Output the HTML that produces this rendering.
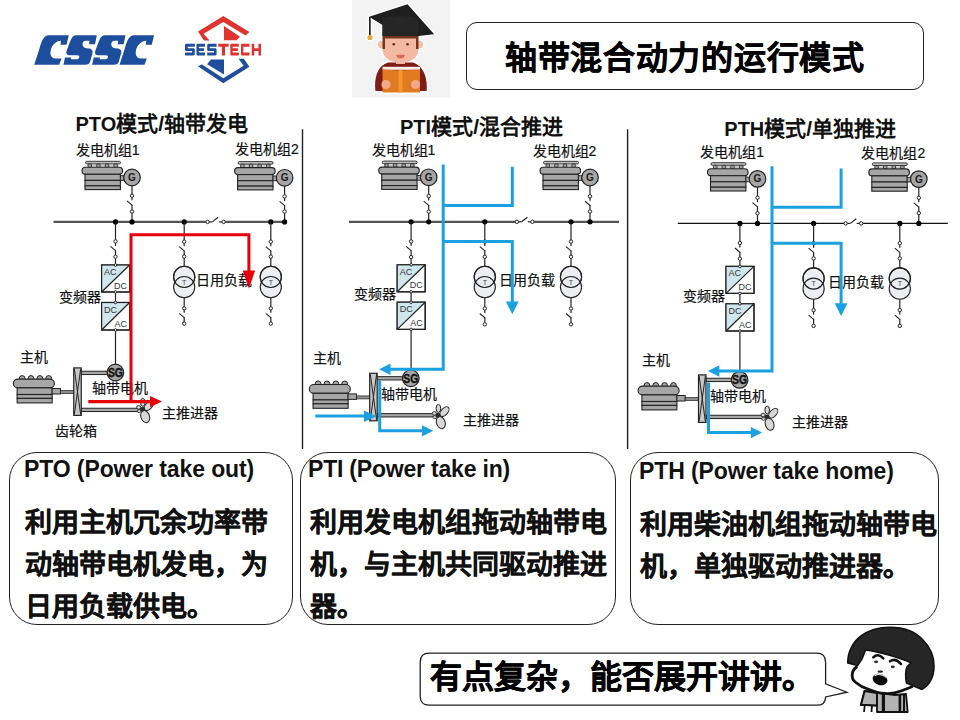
<!DOCTYPE html>
<html lang="zh-CN"><head><meta charset="utf-8"><title>轴带混合动力的运行模式</title>
<style>
html,body{margin:0;padding:0;background:#fff;}
body{width:960px;height:720px;position:relative;overflow:hidden;font-family:'Liberation Sans', sans-serif;}
svg text{font-family:'Liberation Sans', sans-serif;}
.box{position:absolute;border:1.3px solid #222;background:#fff;box-sizing:border-box;}
.hdr{position:absolute;font-weight:bold;font-size:23px;letter-spacing:-0.1px;color:#111;white-space:nowrap;}
.body{position:absolute;font-weight:bold;-webkit-text-stroke:0.3px #111;font-size:27px;line-height:42px;color:#111;white-space:nowrap;}
</style></head><body>
<svg width="960" height="720" viewBox="0 0 960 720" style="position:absolute;left:0;top:0">
<line x1="53.50" y1="221.90" x2="205.90" y2="221.90" stroke="#555" stroke-width="2.2" stroke-linecap="butt"/>
<line x1="225.30" y1="221.90" x2="285.00" y2="221.90" stroke="#555" stroke-width="2.2" stroke-linecap="butt"/>
<circle cx="207.60" cy="221.90" r="1.7" fill="#fff" stroke="#222" stroke-width="1"/>
<circle cx="223.60" cy="221.90" r="1.7" fill="#fff" stroke="#222" stroke-width="1"/>
<line x1="209.30" y1="221.90" x2="212.30" y2="221.90" stroke="#222" stroke-width="1.2" stroke-linecap="butt"/>
<line x1="212.30" y1="221.90" x2="218.10" y2="217.30" stroke="#222" stroke-width="1.2" stroke-linecap="butt"/>
<line x1="219.10" y1="221.90" x2="221.90" y2="221.90" stroke="#222" stroke-width="1.2" stroke-linecap="butt"/>
<rect x="85.50" y="161.30" width="35" height="2.6" rx="1.3" fill="#c4c4c4" stroke="#222" stroke-width="0.9"/>
<rect x="87.50" y="164.90" width="31" height="1.6" fill="#bdbdbd"/>
<rect x="88.10" y="163.90" width="3.4" height="3.6" rx="0.8" fill="#a0a0a0" stroke="#222" stroke-width="0.8"/>
<rect x="96.70" y="163.90" width="3.4" height="3.6" rx="0.8" fill="#a0a0a0" stroke="#222" stroke-width="0.8"/>
<rect x="105.30" y="163.90" width="3.4" height="3.6" rx="0.8" fill="#a0a0a0" stroke="#222" stroke-width="0.8"/>
<rect x="113.90" y="163.90" width="3.4" height="3.6" rx="0.8" fill="#a0a0a0" stroke="#222" stroke-width="0.8"/>
<rect x="82.00" y="167.30" width="40.6" height="7" rx="3.5" fill="#a6a6a6" stroke="#222" stroke-width="1.1"/>
<rect x="85.00" y="174.30" width="35.4" height="6.10" fill="#a6a6a6" stroke="#222" stroke-width="1.1"/>
<rect x="85.00" y="180.40" width="35.4" height="5.40" fill="#a6a6a6" stroke="#222" stroke-width="1.1"/>
<rect x="85.00" y="185.80" width="35.4" height="3.80" fill="#a6a6a6" stroke="#222" stroke-width="1.1"/>
<rect x="120.40" y="175.70" width="3.6" height="4.7" fill="#a6a6a6" stroke="#222" stroke-width="0.9"/>
<circle cx="132.00" cy="177.50" r="8.3" fill="#a6a6a6" stroke="#222" stroke-width="1.2"/>
<text x="132.00" y="180.90" font-size="10" font-weight="bold" fill="#1a1a1a" text-anchor="middle">G</text>
<line x1="132.00" y1="185.80" x2="132.00" y2="194.10" stroke="#222" stroke-width="1.2" stroke-linecap="butt"/>
<circle cx="132.00" cy="195.80" r="1.7" fill="#fff" stroke="#222" stroke-width="1"/>
<line x1="132.00" y1="197.50" x2="132.00" y2="200.30" stroke="#222" stroke-width="1.2" stroke-linecap="butt"/>
<line x1="127.00" y1="200.80" x2="132.30" y2="205.30" stroke="#222" stroke-width="1.1" stroke-linecap="butt"/>
<line x1="132.00" y1="204.80" x2="132.00" y2="209.80" stroke="#222" stroke-width="1.2" stroke-linecap="butt"/>
<circle cx="132.00" cy="211.50" r="1.7" fill="#fff" stroke="#222" stroke-width="1"/>
<line x1="132.00" y1="213.20" x2="132.00" y2="221.90" stroke="#222" stroke-width="1.2" stroke-linecap="butt"/>
<circle cx="132.00" cy="221.90" r="2.6" fill="#000"/>
<rect x="238.10" y="161.60" width="35" height="2.6" rx="1.3" fill="#c4c4c4" stroke="#222" stroke-width="0.9"/>
<rect x="240.10" y="165.20" width="31" height="1.6" fill="#bdbdbd"/>
<rect x="240.70" y="164.20" width="3.4" height="3.6" rx="0.8" fill="#a0a0a0" stroke="#222" stroke-width="0.8"/>
<rect x="249.30" y="164.20" width="3.4" height="3.6" rx="0.8" fill="#a0a0a0" stroke="#222" stroke-width="0.8"/>
<rect x="257.90" y="164.20" width="3.4" height="3.6" rx="0.8" fill="#a0a0a0" stroke="#222" stroke-width="0.8"/>
<rect x="266.50" y="164.20" width="3.4" height="3.6" rx="0.8" fill="#a0a0a0" stroke="#222" stroke-width="0.8"/>
<rect x="234.60" y="167.60" width="40.6" height="7" rx="3.5" fill="#a6a6a6" stroke="#222" stroke-width="1.1"/>
<rect x="237.60" y="174.60" width="35.4" height="6.10" fill="#a6a6a6" stroke="#222" stroke-width="1.1"/>
<rect x="237.60" y="180.70" width="35.4" height="5.40" fill="#a6a6a6" stroke="#222" stroke-width="1.1"/>
<rect x="237.60" y="186.10" width="35.4" height="3.80" fill="#a6a6a6" stroke="#222" stroke-width="1.1"/>
<rect x="273.00" y="176.00" width="3.6" height="4.7" fill="#a6a6a6" stroke="#222" stroke-width="0.9"/>
<circle cx="284.60" cy="177.80" r="8.3" fill="#a6a6a6" stroke="#222" stroke-width="1.2"/>
<text x="284.60" y="181.20" font-size="10" font-weight="bold" fill="#1a1a1a" text-anchor="middle">G</text>
<line x1="284.60" y1="186.10" x2="284.60" y2="194.70" stroke="#222" stroke-width="1.2" stroke-linecap="butt"/>
<circle cx="284.60" cy="196.40" r="1.7" fill="#fff" stroke="#222" stroke-width="1"/>
<line x1="284.60" y1="198.10" x2="284.60" y2="200.90" stroke="#222" stroke-width="1.2" stroke-linecap="butt"/>
<line x1="279.60" y1="201.40" x2="284.90" y2="205.90" stroke="#222" stroke-width="1.1" stroke-linecap="butt"/>
<line x1="284.60" y1="205.40" x2="284.60" y2="209.80" stroke="#222" stroke-width="1.2" stroke-linecap="butt"/>
<circle cx="284.60" cy="211.50" r="1.7" fill="#fff" stroke="#222" stroke-width="1"/>
<line x1="284.60" y1="213.20" x2="284.60" y2="221.90" stroke="#222" stroke-width="1.2" stroke-linecap="butt"/>
<circle cx="284.60" cy="221.90" r="2.6" fill="#000"/>
<circle cx="115.50" cy="221.90" r="2.6" fill="#000"/>
<line x1="115.50" y1="221.90" x2="115.50" y2="239.70" stroke="#222" stroke-width="1.2" stroke-linecap="butt"/>
<circle cx="115.50" cy="241.40" r="1.7" fill="#fff" stroke="#222" stroke-width="1"/>
<line x1="115.50" y1="243.10" x2="115.50" y2="245.90" stroke="#222" stroke-width="1.2" stroke-linecap="butt"/>
<line x1="110.50" y1="246.40" x2="115.80" y2="250.90" stroke="#222" stroke-width="1.1" stroke-linecap="butt"/>
<line x1="115.50" y1="250.40" x2="115.50" y2="255.00" stroke="#222" stroke-width="1.2" stroke-linecap="butt"/>
<circle cx="115.50" cy="256.70" r="1.7" fill="#fff" stroke="#222" stroke-width="1"/>
<line x1="115.50" y1="258.40" x2="115.50" y2="263.70" stroke="#222" stroke-width="1.2" stroke-linecap="butt"/>
<rect x="101.60" y="265.00" width="28" height="27.00" fill="#fff" stroke="#222" stroke-width="1.2"/>
<polygon points="101.60,265.00 129.60,265.00 101.60,292.00" fill="#cfe6ec"/>
<line x1="101.60" y1="292.00" x2="129.60" y2="265.00" stroke="#222" stroke-width="1.2" stroke-linecap="butt"/>
<rect x="101.60" y="265.00" width="28" height="27.00" fill="none" stroke="#222" stroke-width="1.2"/>
<text x="104.10" y="275.00" font-size="9" font-weight="normal" fill="#333" text-anchor="start" >AC</text>
<text x="127.10" y="288.50" font-size="9" font-weight="normal" fill="#333" text-anchor="end" >DC</text>
<circle cx="115.50" cy="265.00" r="1.3" fill="#fff" stroke="#222" stroke-width="1"/>
<circle cx="115.50" cy="292.00" r="1.3" fill="#fff" stroke="#222" stroke-width="1"/>
<rect x="101.60" y="302.50" width="28" height="27.50" fill="#fff" stroke="#222" stroke-width="1.2"/>
<polygon points="101.60,302.50 129.60,302.50 101.60,330.00" fill="#cfe6ec"/>
<line x1="101.60" y1="330.00" x2="129.60" y2="302.50" stroke="#222" stroke-width="1.2" stroke-linecap="butt"/>
<rect x="101.60" y="302.50" width="28" height="27.50" fill="none" stroke="#222" stroke-width="1.2"/>
<text x="104.10" y="312.50" font-size="9" font-weight="normal" fill="#333" text-anchor="start" >DC</text>
<text x="127.10" y="326.50" font-size="9" font-weight="normal" fill="#333" text-anchor="end" >AC</text>
<circle cx="115.50" cy="302.50" r="1.3" fill="#fff" stroke="#222" stroke-width="1"/>
<circle cx="115.50" cy="330.00" r="1.3" fill="#fff" stroke="#222" stroke-width="1"/>
<line x1="115.50" y1="293.30" x2="115.50" y2="301.20" stroke="#222" stroke-width="1.2" stroke-linecap="butt"/>
<line x1="115.50" y1="331.30" x2="115.50" y2="364.20" stroke="#222" stroke-width="1.2" stroke-linecap="butt"/>
<circle cx="184.20" cy="221.90" r="2.6" fill="#000"/>
<line x1="184.20" y1="221.90" x2="184.20" y2="240.00" stroke="#222" stroke-width="1.2" stroke-linecap="butt"/>
<circle cx="184.20" cy="241.70" r="1.7" fill="#fff" stroke="#222" stroke-width="1"/>
<line x1="184.20" y1="243.40" x2="184.20" y2="246.20" stroke="#222" stroke-width="1.2" stroke-linecap="butt"/>
<line x1="179.20" y1="246.70" x2="184.50" y2="251.20" stroke="#222" stroke-width="1.1" stroke-linecap="butt"/>
<line x1="184.20" y1="250.70" x2="184.20" y2="254.90" stroke="#222" stroke-width="1.2" stroke-linecap="butt"/>
<circle cx="184.20" cy="256.60" r="1.7" fill="#fff" stroke="#222" stroke-width="1"/>
<line x1="184.20" y1="258.30" x2="184.20" y2="266.30" stroke="#222" stroke-width="1.2" stroke-linecap="butt"/>
<circle cx="184.20" cy="276.90" r="10.6" fill="#e9ebf0" fill-opacity="0.85" stroke="#222" stroke-width="1.1"/>
<circle cx="184.20" cy="287.10" r="10.6" fill="#e9ebf0" fill-opacity="0.85" stroke="#222" stroke-width="1.1"/>
<circle cx="184.20" cy="276.90" r="10.6" fill="none" stroke="#222" stroke-width="1.1"/>
<text x="184.20" y="284.80" font-size="7" font-weight="normal" fill="#444" text-anchor="middle" >T</text>
<line x1="184.20" y1="297.70" x2="184.20" y2="306.60" stroke="#222" stroke-width="1.2" stroke-linecap="butt"/>
<circle cx="184.20" cy="308.30" r="1.7" fill="#fff" stroke="#222" stroke-width="1"/>
<line x1="184.20" y1="310.00" x2="184.20" y2="312.80" stroke="#222" stroke-width="1.2" stroke-linecap="butt"/>
<line x1="179.20" y1="313.30" x2="184.50" y2="317.80" stroke="#222" stroke-width="1.1" stroke-linecap="butt"/>
<line x1="184.20" y1="317.30" x2="184.20" y2="321.90" stroke="#222" stroke-width="1.2" stroke-linecap="butt"/>
<circle cx="184.20" cy="323.60" r="1.7" fill="#fff" stroke="#222" stroke-width="1"/>
<circle cx="270.80" cy="221.90" r="2.6" fill="#000"/>
<line x1="270.80" y1="221.90" x2="270.80" y2="240.00" stroke="#222" stroke-width="1.2" stroke-linecap="butt"/>
<circle cx="270.80" cy="241.70" r="1.7" fill="#fff" stroke="#222" stroke-width="1"/>
<line x1="270.80" y1="243.40" x2="270.80" y2="246.20" stroke="#222" stroke-width="1.2" stroke-linecap="butt"/>
<line x1="265.80" y1="246.70" x2="271.10" y2="251.20" stroke="#222" stroke-width="1.1" stroke-linecap="butt"/>
<line x1="270.80" y1="250.70" x2="270.80" y2="254.90" stroke="#222" stroke-width="1.2" stroke-linecap="butt"/>
<circle cx="270.80" cy="256.60" r="1.7" fill="#fff" stroke="#222" stroke-width="1"/>
<line x1="270.80" y1="258.30" x2="270.80" y2="266.30" stroke="#222" stroke-width="1.2" stroke-linecap="butt"/>
<circle cx="270.80" cy="276.90" r="10.6" fill="#e9ebf0" fill-opacity="0.85" stroke="#222" stroke-width="1.1"/>
<circle cx="270.80" cy="287.10" r="10.6" fill="#e9ebf0" fill-opacity="0.85" stroke="#222" stroke-width="1.1"/>
<circle cx="270.80" cy="276.90" r="10.6" fill="none" stroke="#222" stroke-width="1.1"/>
<text x="270.80" y="284.80" font-size="7" font-weight="normal" fill="#444" text-anchor="middle" >T</text>
<line x1="270.80" y1="297.70" x2="270.80" y2="306.60" stroke="#222" stroke-width="1.2" stroke-linecap="butt"/>
<circle cx="270.80" cy="308.30" r="1.7" fill="#fff" stroke="#222" stroke-width="1"/>
<line x1="270.80" y1="310.00" x2="270.80" y2="312.80" stroke="#222" stroke-width="1.2" stroke-linecap="butt"/>
<line x1="265.80" y1="313.30" x2="271.10" y2="317.80" stroke="#222" stroke-width="1.1" stroke-linecap="butt"/>
<line x1="270.80" y1="317.30" x2="270.80" y2="321.90" stroke="#222" stroke-width="1.2" stroke-linecap="butt"/>
<circle cx="270.80" cy="323.60" r="1.7" fill="#fff" stroke="#222" stroke-width="1"/>
<circle cx="22.15" cy="378.50" r="2.9" fill="#a6a6a6" stroke="#222" stroke-width="1"/>
<circle cx="31.00" cy="378.50" r="2.9" fill="#a6a6a6" stroke="#222" stroke-width="1"/>
<circle cx="39.85" cy="378.50" r="2.9" fill="#a6a6a6" stroke="#222" stroke-width="1"/>
<circle cx="48.70" cy="378.50" r="2.9" fill="#a6a6a6" stroke="#222" stroke-width="1"/>
<rect x="13.35" y="379.10" width="41" height="8.8" rx="4.4" fill="#a6a6a6" stroke="#222" stroke-width="1.1"/>
<rect x="17.15" y="387.90" width="35" height="6.60" fill="#a6a6a6" stroke="#222" stroke-width="1.1"/>
<rect x="17.15" y="394.50" width="35" height="3.90" fill="#a6a6a6" stroke="#222" stroke-width="1.1"/>
<rect x="17.15" y="398.40" width="35" height="4.50" fill="#a6a6a6" stroke="#222" stroke-width="1.1"/>
<rect x="52.15" y="388.50" width="8.3" height="5.5" fill="#a6a6a6" stroke="#222" stroke-width="1"/>
<rect x="60.45" y="390.50" width="13.3" height="3" fill="#8c8c8c" stroke="#222" stroke-width="0.7"/>
<rect x="81.25" y="371.25" width="26.15" height="3.3" fill="#a8a8a8" stroke="#222" stroke-width="1"/>
<rect x="81.25" y="408.25" width="59.65" height="3.3" fill="#a8a8a8" stroke="#222" stroke-width="1"/>
<rect x="73.75" y="367.90" width="7.5" height="47.5" fill="#c8c8c8" stroke="#222" stroke-width="1.2"/>
<path d="M74.35,368.90 Q77.50,391.65 80.65,414.40 M80.65,368.90 Q77.50,391.65 74.35,414.40" fill="none" stroke="#222" stroke-width="1"/>
<circle cx="115.40" cy="372.50" r="8.3" fill="#a6a6a6" stroke="#222" stroke-width="1.2"/>
<text x="115.40" y="376.80" font-size="12" font-weight="bold" fill="#111" stroke="#111" stroke-width="0.4" text-anchor="middle" textLength="15" lengthAdjust="spacingAndGlyphs">SG</text>
<ellipse cx="138.70" cy="407.40" rx="2.1" ry="1.8" fill="#d8d8d8" stroke="#222" stroke-width="0.9"/>
<ellipse cx="139.10" cy="411.20" rx="1.8" ry="1.5" fill="#d8d8d8" stroke="#222" stroke-width="0.8"/>
<ellipse cx="142.80" cy="402.40" rx="2.3" ry="4" fill="#d8d8d8" stroke="#222" stroke-width="1"/>
<ellipse cx="148.90" cy="405.60" rx="3.3" ry="5.7" transform="rotate(42 148.90 405.60)" fill="#d8d8d8" stroke="#222" stroke-width="1"/>
<ellipse cx="145.20" cy="416.60" rx="4.3" ry="6.2" transform="rotate(-18 145.20 416.60)" fill="#d8d8d8" stroke="#222" stroke-width="1"/>
<circle cx="142.70" cy="409.00" r="2.2" fill="#2a2a2a"/>
<line x1="349.00" y1="221.80" x2="515.20" y2="221.80" stroke="#555" stroke-width="2.2" stroke-linecap="butt"/>
<line x1="534.10" y1="221.80" x2="619.00" y2="221.80" stroke="#555" stroke-width="2.2" stroke-linecap="butt"/>
<circle cx="516.90" cy="221.80" r="1.7" fill="#fff" stroke="#222" stroke-width="1"/>
<circle cx="532.40" cy="221.80" r="1.7" fill="#fff" stroke="#222" stroke-width="1"/>
<line x1="518.60" y1="221.80" x2="521.60" y2="221.80" stroke="#222" stroke-width="1.2" stroke-linecap="butt"/>
<line x1="521.60" y1="221.80" x2="527.40" y2="217.20" stroke="#222" stroke-width="1.2" stroke-linecap="butt"/>
<line x1="527.90" y1="221.80" x2="530.70" y2="221.80" stroke="#222" stroke-width="1.2" stroke-linecap="butt"/>
<rect x="382.20" y="161.10" width="35" height="2.6" rx="1.3" fill="#c4c4c4" stroke="#222" stroke-width="0.9"/>
<rect x="384.20" y="164.70" width="31" height="1.6" fill="#bdbdbd"/>
<rect x="384.80" y="163.70" width="3.4" height="3.6" rx="0.8" fill="#a0a0a0" stroke="#222" stroke-width="0.8"/>
<rect x="393.40" y="163.70" width="3.4" height="3.6" rx="0.8" fill="#a0a0a0" stroke="#222" stroke-width="0.8"/>
<rect x="402.00" y="163.70" width="3.4" height="3.6" rx="0.8" fill="#a0a0a0" stroke="#222" stroke-width="0.8"/>
<rect x="410.60" y="163.70" width="3.4" height="3.6" rx="0.8" fill="#a0a0a0" stroke="#222" stroke-width="0.8"/>
<rect x="378.70" y="167.10" width="40.6" height="7" rx="3.5" fill="#a6a6a6" stroke="#222" stroke-width="1.1"/>
<rect x="381.70" y="174.10" width="35.4" height="6.10" fill="#a6a6a6" stroke="#222" stroke-width="1.1"/>
<rect x="381.70" y="180.20" width="35.4" height="5.40" fill="#a6a6a6" stroke="#222" stroke-width="1.1"/>
<rect x="381.70" y="185.60" width="35.4" height="3.80" fill="#a6a6a6" stroke="#222" stroke-width="1.1"/>
<rect x="417.10" y="175.50" width="3.6" height="4.7" fill="#a6a6a6" stroke="#222" stroke-width="0.9"/>
<circle cx="428.70" cy="177.30" r="8.3" fill="#a6a6a6" stroke="#222" stroke-width="1.2"/>
<text x="428.70" y="180.70" font-size="10" font-weight="bold" fill="#1a1a1a" text-anchor="middle">G</text>
<line x1="428.70" y1="185.60" x2="428.70" y2="194.40" stroke="#222" stroke-width="1.2" stroke-linecap="butt"/>
<circle cx="428.70" cy="196.10" r="1.7" fill="#fff" stroke="#222" stroke-width="1"/>
<line x1="428.70" y1="197.80" x2="428.70" y2="200.60" stroke="#222" stroke-width="1.2" stroke-linecap="butt"/>
<line x1="423.70" y1="201.10" x2="429.00" y2="205.60" stroke="#222" stroke-width="1.1" stroke-linecap="butt"/>
<line x1="428.70" y1="205.10" x2="428.70" y2="209.90" stroke="#222" stroke-width="1.2" stroke-linecap="butt"/>
<circle cx="428.70" cy="211.60" r="1.7" fill="#fff" stroke="#222" stroke-width="1"/>
<line x1="428.70" y1="213.30" x2="428.70" y2="221.80" stroke="#222" stroke-width="1.2" stroke-linecap="butt"/>
<circle cx="428.70" cy="221.80" r="2.6" fill="#000"/>
<rect x="543.50" y="161.30" width="35" height="2.6" rx="1.3" fill="#c4c4c4" stroke="#222" stroke-width="0.9"/>
<rect x="545.50" y="164.90" width="31" height="1.6" fill="#bdbdbd"/>
<rect x="546.10" y="163.90" width="3.4" height="3.6" rx="0.8" fill="#a0a0a0" stroke="#222" stroke-width="0.8"/>
<rect x="554.70" y="163.90" width="3.4" height="3.6" rx="0.8" fill="#a0a0a0" stroke="#222" stroke-width="0.8"/>
<rect x="563.30" y="163.90" width="3.4" height="3.6" rx="0.8" fill="#a0a0a0" stroke="#222" stroke-width="0.8"/>
<rect x="571.90" y="163.90" width="3.4" height="3.6" rx="0.8" fill="#a0a0a0" stroke="#222" stroke-width="0.8"/>
<rect x="540.00" y="167.30" width="40.6" height="7" rx="3.5" fill="#a6a6a6" stroke="#222" stroke-width="1.1"/>
<rect x="543.00" y="174.30" width="35.4" height="6.10" fill="#a6a6a6" stroke="#222" stroke-width="1.1"/>
<rect x="543.00" y="180.40" width="35.4" height="5.40" fill="#a6a6a6" stroke="#222" stroke-width="1.1"/>
<rect x="543.00" y="185.80" width="35.4" height="3.80" fill="#a6a6a6" stroke="#222" stroke-width="1.1"/>
<rect x="578.40" y="175.70" width="3.6" height="4.7" fill="#a6a6a6" stroke="#222" stroke-width="0.9"/>
<circle cx="590.00" cy="177.50" r="8.3" fill="#a6a6a6" stroke="#222" stroke-width="1.2"/>
<text x="590.00" y="180.90" font-size="10" font-weight="bold" fill="#1a1a1a" text-anchor="middle">G</text>
<line x1="590.00" y1="185.80" x2="590.00" y2="194.55" stroke="#222" stroke-width="1.2" stroke-linecap="butt"/>
<circle cx="590.00" cy="196.25" r="1.7" fill="#fff" stroke="#222" stroke-width="1"/>
<line x1="590.00" y1="197.95" x2="590.00" y2="200.75" stroke="#222" stroke-width="1.2" stroke-linecap="butt"/>
<line x1="585.00" y1="201.25" x2="590.30" y2="205.75" stroke="#222" stroke-width="1.1" stroke-linecap="butt"/>
<line x1="590.00" y1="205.25" x2="590.00" y2="209.80" stroke="#222" stroke-width="1.2" stroke-linecap="butt"/>
<circle cx="590.00" cy="211.50" r="1.7" fill="#fff" stroke="#222" stroke-width="1"/>
<line x1="590.00" y1="213.20" x2="590.00" y2="221.80" stroke="#222" stroke-width="1.2" stroke-linecap="butt"/>
<circle cx="590.00" cy="221.80" r="2.6" fill="#000"/>
<circle cx="411.10" cy="221.80" r="2.6" fill="#000"/>
<line x1="411.10" y1="221.80" x2="411.10" y2="239.70" stroke="#222" stroke-width="1.2" stroke-linecap="butt"/>
<circle cx="411.10" cy="241.40" r="1.7" fill="#fff" stroke="#222" stroke-width="1"/>
<line x1="411.10" y1="243.10" x2="411.10" y2="245.90" stroke="#222" stroke-width="1.2" stroke-linecap="butt"/>
<line x1="406.10" y1="246.40" x2="411.40" y2="250.90" stroke="#222" stroke-width="1.1" stroke-linecap="butt"/>
<line x1="411.10" y1="250.40" x2="411.10" y2="255.40" stroke="#222" stroke-width="1.2" stroke-linecap="butt"/>
<circle cx="411.10" cy="257.10" r="1.7" fill="#fff" stroke="#222" stroke-width="1"/>
<line x1="411.10" y1="258.80" x2="411.10" y2="263.50" stroke="#222" stroke-width="1.2" stroke-linecap="butt"/>
<rect x="397.20" y="264.80" width="28" height="27.00" fill="#fff" stroke="#222" stroke-width="1.2"/>
<polygon points="397.20,264.80 425.20,264.80 397.20,291.80" fill="#cfe6ec"/>
<line x1="397.20" y1="291.80" x2="425.20" y2="264.80" stroke="#222" stroke-width="1.2" stroke-linecap="butt"/>
<rect x="397.20" y="264.80" width="28" height="27.00" fill="none" stroke="#222" stroke-width="1.2"/>
<text x="399.70" y="274.80" font-size="9" font-weight="normal" fill="#333" text-anchor="start" >AC</text>
<text x="422.70" y="288.30" font-size="9" font-weight="normal" fill="#333" text-anchor="end" >DC</text>
<circle cx="411.10" cy="264.80" r="1.3" fill="#fff" stroke="#222" stroke-width="1"/>
<circle cx="411.10" cy="291.80" r="1.3" fill="#fff" stroke="#222" stroke-width="1"/>
<rect x="397.20" y="302.20" width="28" height="27.20" fill="#fff" stroke="#222" stroke-width="1.2"/>
<polygon points="397.20,302.20 425.20,302.20 397.20,329.40" fill="#cfe6ec"/>
<line x1="397.20" y1="329.40" x2="425.20" y2="302.20" stroke="#222" stroke-width="1.2" stroke-linecap="butt"/>
<rect x="397.20" y="302.20" width="28" height="27.20" fill="none" stroke="#222" stroke-width="1.2"/>
<text x="399.70" y="312.20" font-size="9" font-weight="normal" fill="#333" text-anchor="start" >DC</text>
<text x="422.70" y="325.90" font-size="9" font-weight="normal" fill="#333" text-anchor="end" >AC</text>
<circle cx="411.10" cy="302.20" r="1.3" fill="#fff" stroke="#222" stroke-width="1"/>
<circle cx="411.10" cy="329.40" r="1.3" fill="#fff" stroke="#222" stroke-width="1"/>
<line x1="411.10" y1="293.10" x2="411.10" y2="300.90" stroke="#222" stroke-width="1.2" stroke-linecap="butt"/>
<line x1="411.10" y1="330.70" x2="411.10" y2="370.00" stroke="#222" stroke-width="1.2" stroke-linecap="butt"/>
<circle cx="484.80" cy="221.80" r="2.6" fill="#000"/>
<line x1="484.80" y1="221.80" x2="484.80" y2="239.90" stroke="#222" stroke-width="1.2" stroke-linecap="butt"/>
<circle cx="484.80" cy="241.60" r="1.7" fill="#fff" stroke="#222" stroke-width="1"/>
<line x1="484.80" y1="243.30" x2="484.80" y2="246.10" stroke="#222" stroke-width="1.2" stroke-linecap="butt"/>
<line x1="479.80" y1="246.60" x2="485.10" y2="251.10" stroke="#222" stroke-width="1.1" stroke-linecap="butt"/>
<line x1="484.80" y1="250.60" x2="484.80" y2="255.10" stroke="#222" stroke-width="1.2" stroke-linecap="butt"/>
<circle cx="484.80" cy="256.80" r="1.7" fill="#fff" stroke="#222" stroke-width="1"/>
<line x1="484.80" y1="258.50" x2="484.80" y2="266.30" stroke="#222" stroke-width="1.2" stroke-linecap="butt"/>
<circle cx="484.80" cy="276.90" r="10.6" fill="#e9ebf0" fill-opacity="0.85" stroke="#222" stroke-width="1.1"/>
<circle cx="484.80" cy="287.10" r="10.6" fill="#e9ebf0" fill-opacity="0.85" stroke="#222" stroke-width="1.1"/>
<circle cx="484.80" cy="276.90" r="10.6" fill="none" stroke="#222" stroke-width="1.1"/>
<text x="484.80" y="284.80" font-size="7" font-weight="normal" fill="#444" text-anchor="middle" >T</text>
<line x1="484.80" y1="297.70" x2="484.80" y2="306.80" stroke="#222" stroke-width="1.2" stroke-linecap="butt"/>
<circle cx="484.80" cy="308.50" r="1.7" fill="#fff" stroke="#222" stroke-width="1"/>
<line x1="484.80" y1="310.20" x2="484.80" y2="313.00" stroke="#222" stroke-width="1.2" stroke-linecap="butt"/>
<line x1="479.80" y1="313.50" x2="485.10" y2="318.00" stroke="#222" stroke-width="1.1" stroke-linecap="butt"/>
<line x1="484.80" y1="317.50" x2="484.80" y2="322.60" stroke="#222" stroke-width="1.2" stroke-linecap="butt"/>
<circle cx="484.80" cy="324.30" r="1.7" fill="#fff" stroke="#222" stroke-width="1"/>
<circle cx="571.00" cy="221.80" r="2.6" fill="#000"/>
<line x1="571.00" y1="221.80" x2="571.00" y2="239.90" stroke="#222" stroke-width="1.2" stroke-linecap="butt"/>
<circle cx="571.00" cy="241.60" r="1.7" fill="#fff" stroke="#222" stroke-width="1"/>
<line x1="571.00" y1="243.30" x2="571.00" y2="246.10" stroke="#222" stroke-width="1.2" stroke-linecap="butt"/>
<line x1="566.00" y1="246.60" x2="571.30" y2="251.10" stroke="#222" stroke-width="1.1" stroke-linecap="butt"/>
<line x1="571.00" y1="250.60" x2="571.00" y2="255.10" stroke="#222" stroke-width="1.2" stroke-linecap="butt"/>
<circle cx="571.00" cy="256.80" r="1.7" fill="#fff" stroke="#222" stroke-width="1"/>
<line x1="571.00" y1="258.50" x2="571.00" y2="266.30" stroke="#222" stroke-width="1.2" stroke-linecap="butt"/>
<circle cx="571.00" cy="276.90" r="10.6" fill="#e9ebf0" fill-opacity="0.85" stroke="#222" stroke-width="1.1"/>
<circle cx="571.00" cy="287.10" r="10.6" fill="#e9ebf0" fill-opacity="0.85" stroke="#222" stroke-width="1.1"/>
<circle cx="571.00" cy="276.90" r="10.6" fill="none" stroke="#222" stroke-width="1.1"/>
<text x="571.00" y="284.80" font-size="7" font-weight="normal" fill="#444" text-anchor="middle" >T</text>
<line x1="571.00" y1="297.70" x2="571.00" y2="306.80" stroke="#222" stroke-width="1.2" stroke-linecap="butt"/>
<circle cx="571.00" cy="308.50" r="1.7" fill="#fff" stroke="#222" stroke-width="1"/>
<line x1="571.00" y1="310.20" x2="571.00" y2="313.00" stroke="#222" stroke-width="1.2" stroke-linecap="butt"/>
<line x1="566.00" y1="313.50" x2="571.30" y2="318.00" stroke="#222" stroke-width="1.1" stroke-linecap="butt"/>
<line x1="571.00" y1="317.50" x2="571.00" y2="322.60" stroke="#222" stroke-width="1.2" stroke-linecap="butt"/>
<circle cx="571.00" cy="324.30" r="1.7" fill="#fff" stroke="#222" stroke-width="1"/>
<circle cx="318.10" cy="383.90" r="2.9" fill="#a6a6a6" stroke="#222" stroke-width="1"/>
<circle cx="326.95" cy="383.90" r="2.9" fill="#a6a6a6" stroke="#222" stroke-width="1"/>
<circle cx="335.80" cy="383.90" r="2.9" fill="#a6a6a6" stroke="#222" stroke-width="1"/>
<circle cx="344.65" cy="383.90" r="2.9" fill="#a6a6a6" stroke="#222" stroke-width="1"/>
<rect x="309.30" y="384.50" width="41" height="8.8" rx="4.4" fill="#a6a6a6" stroke="#222" stroke-width="1.1"/>
<rect x="313.10" y="393.30" width="35" height="6.60" fill="#a6a6a6" stroke="#222" stroke-width="1.1"/>
<rect x="313.10" y="399.90" width="35" height="3.90" fill="#a6a6a6" stroke="#222" stroke-width="1.1"/>
<rect x="313.10" y="403.80" width="35" height="4.50" fill="#a6a6a6" stroke="#222" stroke-width="1.1"/>
<rect x="348.10" y="393.90" width="8.3" height="5.5" fill="#a6a6a6" stroke="#222" stroke-width="1"/>
<rect x="356.40" y="395.90" width="13.3" height="3" fill="#8c8c8c" stroke="#222" stroke-width="0.7"/>
<rect x="377.20" y="376.65" width="25.60" height="3.3" fill="#a8a8a8" stroke="#222" stroke-width="1"/>
<rect x="377.20" y="413.65" width="59.30" height="3.3" fill="#a8a8a8" stroke="#222" stroke-width="1"/>
<rect x="369.70" y="373.30" width="7.5" height="47.5" fill="#c8c8c8" stroke="#222" stroke-width="1.2"/>
<path d="M370.30,374.30 Q373.45,397.05 376.60,419.80 M376.60,374.30 Q373.45,397.05 370.30,419.80" fill="none" stroke="#222" stroke-width="1"/>
<circle cx="410.80" cy="378.30" r="8.3" fill="#a6a6a6" stroke="#222" stroke-width="1.2"/>
<text x="410.80" y="382.60" font-size="12" font-weight="bold" fill="#111" stroke="#111" stroke-width="0.4" text-anchor="middle" textLength="15" lengthAdjust="spacingAndGlyphs">SG</text>
<ellipse cx="434.30" cy="413.40" rx="2.1" ry="1.8" fill="#d8d8d8" stroke="#222" stroke-width="0.9"/>
<ellipse cx="434.70" cy="417.20" rx="1.8" ry="1.5" fill="#d8d8d8" stroke="#222" stroke-width="0.8"/>
<ellipse cx="438.40" cy="408.40" rx="2.3" ry="4" fill="#d8d8d8" stroke="#222" stroke-width="1"/>
<ellipse cx="444.50" cy="411.60" rx="3.3" ry="5.7" transform="rotate(42 444.50 411.60)" fill="#d8d8d8" stroke="#222" stroke-width="1"/>
<ellipse cx="440.80" cy="422.60" rx="4.3" ry="6.2" transform="rotate(-18 440.80 422.60)" fill="#d8d8d8" stroke="#222" stroke-width="1"/>
<circle cx="438.30" cy="415.00" r="2.2" fill="#2a2a2a"/>
<line x1="677.80" y1="223.40" x2="844.00" y2="223.40" stroke="#111" stroke-width="1.4" stroke-linecap="butt"/>
<line x1="862.90" y1="223.40" x2="947.80" y2="223.40" stroke="#111" stroke-width="1.4" stroke-linecap="butt"/>
<circle cx="845.70" cy="223.40" r="1.7" fill="#fff" stroke="#222" stroke-width="1"/>
<circle cx="861.20" cy="223.40" r="1.7" fill="#fff" stroke="#222" stroke-width="1"/>
<line x1="847.40" y1="223.40" x2="850.40" y2="223.40" stroke="#222" stroke-width="1.2" stroke-linecap="butt"/>
<line x1="850.40" y1="223.40" x2="856.20" y2="218.80" stroke="#222" stroke-width="1.2" stroke-linecap="butt"/>
<line x1="856.70" y1="223.40" x2="859.50" y2="223.40" stroke="#222" stroke-width="1.2" stroke-linecap="butt"/>
<rect x="711.00" y="162.70" width="35" height="2.6" rx="1.3" fill="#c4c4c4" stroke="#222" stroke-width="0.9"/>
<rect x="713.00" y="166.30" width="31" height="1.6" fill="#bdbdbd"/>
<rect x="713.60" y="165.30" width="3.4" height="3.6" rx="0.8" fill="#a0a0a0" stroke="#222" stroke-width="0.8"/>
<rect x="722.20" y="165.30" width="3.4" height="3.6" rx="0.8" fill="#a0a0a0" stroke="#222" stroke-width="0.8"/>
<rect x="730.80" y="165.30" width="3.4" height="3.6" rx="0.8" fill="#a0a0a0" stroke="#222" stroke-width="0.8"/>
<rect x="739.40" y="165.30" width="3.4" height="3.6" rx="0.8" fill="#a0a0a0" stroke="#222" stroke-width="0.8"/>
<rect x="707.50" y="168.70" width="40.6" height="7" rx="3.5" fill="#a6a6a6" stroke="#222" stroke-width="1.1"/>
<rect x="710.50" y="175.70" width="35.4" height="6.10" fill="#a6a6a6" stroke="#222" stroke-width="1.1"/>
<rect x="710.50" y="181.80" width="35.4" height="5.40" fill="#a6a6a6" stroke="#222" stroke-width="1.1"/>
<rect x="710.50" y="187.20" width="35.4" height="3.80" fill="#a6a6a6" stroke="#222" stroke-width="1.1"/>
<rect x="745.90" y="177.10" width="3.6" height="4.7" fill="#a6a6a6" stroke="#222" stroke-width="0.9"/>
<circle cx="757.50" cy="178.90" r="8.3" fill="#a6a6a6" stroke="#222" stroke-width="1.2"/>
<text x="757.50" y="182.30" font-size="10" font-weight="bold" fill="#1a1a1a" text-anchor="middle">G</text>
<line x1="757.50" y1="187.20" x2="757.50" y2="196.00" stroke="#222" stroke-width="1.2" stroke-linecap="butt"/>
<circle cx="757.50" cy="197.70" r="1.7" fill="#fff" stroke="#222" stroke-width="1"/>
<line x1="757.50" y1="199.40" x2="757.50" y2="202.20" stroke="#222" stroke-width="1.2" stroke-linecap="butt"/>
<line x1="752.50" y1="202.70" x2="757.80" y2="207.20" stroke="#222" stroke-width="1.1" stroke-linecap="butt"/>
<line x1="757.50" y1="206.70" x2="757.50" y2="211.50" stroke="#222" stroke-width="1.2" stroke-linecap="butt"/>
<circle cx="757.50" cy="213.20" r="1.7" fill="#fff" stroke="#222" stroke-width="1"/>
<line x1="757.50" y1="214.90" x2="757.50" y2="223.40" stroke="#222" stroke-width="1.2" stroke-linecap="butt"/>
<circle cx="757.50" cy="223.40" r="2.6" fill="#000"/>
<rect x="872.30" y="162.90" width="35" height="2.6" rx="1.3" fill="#c4c4c4" stroke="#222" stroke-width="0.9"/>
<rect x="874.30" y="166.50" width="31" height="1.6" fill="#bdbdbd"/>
<rect x="874.90" y="165.50" width="3.4" height="3.6" rx="0.8" fill="#a0a0a0" stroke="#222" stroke-width="0.8"/>
<rect x="883.50" y="165.50" width="3.4" height="3.6" rx="0.8" fill="#a0a0a0" stroke="#222" stroke-width="0.8"/>
<rect x="892.10" y="165.50" width="3.4" height="3.6" rx="0.8" fill="#a0a0a0" stroke="#222" stroke-width="0.8"/>
<rect x="900.70" y="165.50" width="3.4" height="3.6" rx="0.8" fill="#a0a0a0" stroke="#222" stroke-width="0.8"/>
<rect x="868.80" y="168.90" width="40.6" height="7" rx="3.5" fill="#a6a6a6" stroke="#222" stroke-width="1.1"/>
<rect x="871.80" y="175.90" width="35.4" height="6.10" fill="#a6a6a6" stroke="#222" stroke-width="1.1"/>
<rect x="871.80" y="182.00" width="35.4" height="5.40" fill="#a6a6a6" stroke="#222" stroke-width="1.1"/>
<rect x="871.80" y="187.40" width="35.4" height="3.80" fill="#a6a6a6" stroke="#222" stroke-width="1.1"/>
<rect x="907.20" y="177.30" width="3.6" height="4.7" fill="#a6a6a6" stroke="#222" stroke-width="0.9"/>
<circle cx="918.80" cy="179.10" r="8.3" fill="#a6a6a6" stroke="#222" stroke-width="1.2"/>
<text x="918.80" y="182.50" font-size="10" font-weight="bold" fill="#1a1a1a" text-anchor="middle">G</text>
<line x1="918.80" y1="187.40" x2="918.80" y2="196.15" stroke="#222" stroke-width="1.2" stroke-linecap="butt"/>
<circle cx="918.80" cy="197.85" r="1.7" fill="#fff" stroke="#222" stroke-width="1"/>
<line x1="918.80" y1="199.55" x2="918.80" y2="202.35" stroke="#222" stroke-width="1.2" stroke-linecap="butt"/>
<line x1="913.80" y1="202.85" x2="919.10" y2="207.35" stroke="#222" stroke-width="1.1" stroke-linecap="butt"/>
<line x1="918.80" y1="206.85" x2="918.80" y2="211.40" stroke="#222" stroke-width="1.2" stroke-linecap="butt"/>
<circle cx="918.80" cy="213.10" r="1.7" fill="#fff" stroke="#222" stroke-width="1"/>
<line x1="918.80" y1="214.80" x2="918.80" y2="223.40" stroke="#222" stroke-width="1.2" stroke-linecap="butt"/>
<circle cx="918.80" cy="223.40" r="2.6" fill="#000"/>
<circle cx="739.90" cy="223.40" r="2.6" fill="#000"/>
<line x1="739.90" y1="223.40" x2="739.90" y2="241.30" stroke="#222" stroke-width="1.2" stroke-linecap="butt"/>
<circle cx="739.90" cy="243.00" r="1.7" fill="#fff" stroke="#222" stroke-width="1"/>
<line x1="739.90" y1="244.70" x2="739.90" y2="247.50" stroke="#222" stroke-width="1.2" stroke-linecap="butt"/>
<line x1="734.90" y1="248.00" x2="740.20" y2="252.50" stroke="#222" stroke-width="1.1" stroke-linecap="butt"/>
<line x1="739.90" y1="252.00" x2="739.90" y2="257.00" stroke="#222" stroke-width="1.2" stroke-linecap="butt"/>
<circle cx="739.90" cy="258.70" r="1.7" fill="#fff" stroke="#222" stroke-width="1"/>
<line x1="739.90" y1="260.40" x2="739.90" y2="265.10" stroke="#222" stroke-width="1.2" stroke-linecap="butt"/>
<rect x="726.00" y="266.40" width="28" height="27.00" fill="#fff" stroke="#222" stroke-width="1.2"/>
<polygon points="726.00,266.40 754.00,266.40 726.00,293.40" fill="#cfe6ec"/>
<line x1="726.00" y1="293.40" x2="754.00" y2="266.40" stroke="#222" stroke-width="1.2" stroke-linecap="butt"/>
<rect x="726.00" y="266.40" width="28" height="27.00" fill="none" stroke="#222" stroke-width="1.2"/>
<text x="728.50" y="276.40" font-size="9" font-weight="normal" fill="#333" text-anchor="start" >AC</text>
<text x="751.50" y="289.90" font-size="9" font-weight="normal" fill="#333" text-anchor="end" >DC</text>
<circle cx="739.90" cy="266.40" r="1.3" fill="#fff" stroke="#222" stroke-width="1"/>
<circle cx="739.90" cy="293.40" r="1.3" fill="#fff" stroke="#222" stroke-width="1"/>
<rect x="726.00" y="303.80" width="28" height="27.20" fill="#fff" stroke="#222" stroke-width="1.2"/>
<polygon points="726.00,303.80 754.00,303.80 726.00,331.00" fill="#cfe6ec"/>
<line x1="726.00" y1="331.00" x2="754.00" y2="303.80" stroke="#222" stroke-width="1.2" stroke-linecap="butt"/>
<rect x="726.00" y="303.80" width="28" height="27.20" fill="none" stroke="#222" stroke-width="1.2"/>
<text x="728.50" y="313.80" font-size="9" font-weight="normal" fill="#333" text-anchor="start" >DC</text>
<text x="751.50" y="327.50" font-size="9" font-weight="normal" fill="#333" text-anchor="end" >AC</text>
<circle cx="739.90" cy="303.80" r="1.3" fill="#fff" stroke="#222" stroke-width="1"/>
<circle cx="739.90" cy="331.00" r="1.3" fill="#fff" stroke="#222" stroke-width="1"/>
<line x1="739.90" y1="294.70" x2="739.90" y2="302.50" stroke="#222" stroke-width="1.2" stroke-linecap="butt"/>
<line x1="739.90" y1="332.30" x2="739.90" y2="371.60" stroke="#222" stroke-width="1.2" stroke-linecap="butt"/>
<circle cx="813.60" cy="223.40" r="2.6" fill="#000"/>
<line x1="813.60" y1="223.40" x2="813.60" y2="241.50" stroke="#222" stroke-width="1.2" stroke-linecap="butt"/>
<circle cx="813.60" cy="243.20" r="1.7" fill="#fff" stroke="#222" stroke-width="1"/>
<line x1="813.60" y1="244.90" x2="813.60" y2="247.70" stroke="#222" stroke-width="1.2" stroke-linecap="butt"/>
<line x1="808.60" y1="248.20" x2="813.90" y2="252.70" stroke="#222" stroke-width="1.1" stroke-linecap="butt"/>
<line x1="813.60" y1="252.20" x2="813.60" y2="256.70" stroke="#222" stroke-width="1.2" stroke-linecap="butt"/>
<circle cx="813.60" cy="258.40" r="1.7" fill="#fff" stroke="#222" stroke-width="1"/>
<line x1="813.60" y1="260.10" x2="813.60" y2="267.90" stroke="#222" stroke-width="1.2" stroke-linecap="butt"/>
<circle cx="813.60" cy="278.50" r="10.6" fill="#e9ebf0" fill-opacity="0.85" stroke="#222" stroke-width="1.1"/>
<circle cx="813.60" cy="288.70" r="10.6" fill="#e9ebf0" fill-opacity="0.85" stroke="#222" stroke-width="1.1"/>
<circle cx="813.60" cy="278.50" r="10.6" fill="none" stroke="#222" stroke-width="1.1"/>
<text x="813.60" y="286.40" font-size="7" font-weight="normal" fill="#444" text-anchor="middle" >T</text>
<line x1="813.60" y1="299.30" x2="813.60" y2="308.40" stroke="#222" stroke-width="1.2" stroke-linecap="butt"/>
<circle cx="813.60" cy="310.10" r="1.7" fill="#fff" stroke="#222" stroke-width="1"/>
<line x1="813.60" y1="311.80" x2="813.60" y2="314.60" stroke="#222" stroke-width="1.2" stroke-linecap="butt"/>
<line x1="808.60" y1="315.10" x2="813.90" y2="319.60" stroke="#222" stroke-width="1.1" stroke-linecap="butt"/>
<line x1="813.60" y1="319.10" x2="813.60" y2="324.20" stroke="#222" stroke-width="1.2" stroke-linecap="butt"/>
<circle cx="813.60" cy="325.90" r="1.7" fill="#fff" stroke="#222" stroke-width="1"/>
<circle cx="899.80" cy="223.40" r="2.6" fill="#000"/>
<line x1="899.80" y1="223.40" x2="899.80" y2="241.50" stroke="#222" stroke-width="1.2" stroke-linecap="butt"/>
<circle cx="899.80" cy="243.20" r="1.7" fill="#fff" stroke="#222" stroke-width="1"/>
<line x1="899.80" y1="244.90" x2="899.80" y2="247.70" stroke="#222" stroke-width="1.2" stroke-linecap="butt"/>
<line x1="894.80" y1="248.20" x2="900.10" y2="252.70" stroke="#222" stroke-width="1.1" stroke-linecap="butt"/>
<line x1="899.80" y1="252.20" x2="899.80" y2="256.70" stroke="#222" stroke-width="1.2" stroke-linecap="butt"/>
<circle cx="899.80" cy="258.40" r="1.7" fill="#fff" stroke="#222" stroke-width="1"/>
<line x1="899.80" y1="260.10" x2="899.80" y2="267.90" stroke="#222" stroke-width="1.2" stroke-linecap="butt"/>
<circle cx="899.80" cy="278.50" r="10.6" fill="#e9ebf0" fill-opacity="0.85" stroke="#222" stroke-width="1.1"/>
<circle cx="899.80" cy="288.70" r="10.6" fill="#e9ebf0" fill-opacity="0.85" stroke="#222" stroke-width="1.1"/>
<circle cx="899.80" cy="278.50" r="10.6" fill="none" stroke="#222" stroke-width="1.1"/>
<text x="899.80" y="286.40" font-size="7" font-weight="normal" fill="#444" text-anchor="middle" >T</text>
<line x1="899.80" y1="299.30" x2="899.80" y2="308.40" stroke="#222" stroke-width="1.2" stroke-linecap="butt"/>
<circle cx="899.80" cy="310.10" r="1.7" fill="#fff" stroke="#222" stroke-width="1"/>
<line x1="899.80" y1="311.80" x2="899.80" y2="314.60" stroke="#222" stroke-width="1.2" stroke-linecap="butt"/>
<line x1="894.80" y1="315.10" x2="900.10" y2="319.60" stroke="#222" stroke-width="1.1" stroke-linecap="butt"/>
<line x1="899.80" y1="319.10" x2="899.80" y2="324.20" stroke="#222" stroke-width="1.2" stroke-linecap="butt"/>
<circle cx="899.80" cy="325.90" r="1.7" fill="#fff" stroke="#222" stroke-width="1"/>
<circle cx="646.90" cy="385.50" r="2.9" fill="#a6a6a6" stroke="#222" stroke-width="1"/>
<circle cx="655.75" cy="385.50" r="2.9" fill="#a6a6a6" stroke="#222" stroke-width="1"/>
<circle cx="664.60" cy="385.50" r="2.9" fill="#a6a6a6" stroke="#222" stroke-width="1"/>
<circle cx="673.45" cy="385.50" r="2.9" fill="#a6a6a6" stroke="#222" stroke-width="1"/>
<rect x="638.10" y="386.10" width="41" height="8.8" rx="4.4" fill="#a6a6a6" stroke="#222" stroke-width="1.1"/>
<rect x="641.90" y="394.90" width="35" height="6.60" fill="#a6a6a6" stroke="#222" stroke-width="1.1"/>
<rect x="641.90" y="401.50" width="35" height="3.90" fill="#a6a6a6" stroke="#222" stroke-width="1.1"/>
<rect x="641.90" y="405.40" width="35" height="4.50" fill="#a6a6a6" stroke="#222" stroke-width="1.1"/>
<rect x="676.90" y="395.50" width="8.3" height="5.5" fill="#a6a6a6" stroke="#222" stroke-width="1"/>
<rect x="685.20" y="397.50" width="13.3" height="3" fill="#8c8c8c" stroke="#222" stroke-width="0.7"/>
<rect x="706.00" y="378.25" width="25.60" height="3.3" fill="#a8a8a8" stroke="#222" stroke-width="1"/>
<rect x="706.00" y="415.25" width="59.30" height="3.3" fill="#a8a8a8" stroke="#222" stroke-width="1"/>
<rect x="698.50" y="374.90" width="7.5" height="47.5" fill="#c8c8c8" stroke="#222" stroke-width="1.2"/>
<path d="M699.10,375.90 Q702.25,398.65 705.40,421.40 M705.40,375.90 Q702.25,398.65 699.10,421.40" fill="none" stroke="#222" stroke-width="1"/>
<circle cx="739.60" cy="379.90" r="8.3" fill="#a6a6a6" stroke="#222" stroke-width="1.2"/>
<text x="739.60" y="384.20" font-size="12" font-weight="bold" fill="#111" stroke="#111" stroke-width="0.4" text-anchor="middle" textLength="15" lengthAdjust="spacingAndGlyphs">SG</text>
<ellipse cx="763.10" cy="415.00" rx="2.1" ry="1.8" fill="#d8d8d8" stroke="#222" stroke-width="0.9"/>
<ellipse cx="763.50" cy="418.80" rx="1.8" ry="1.5" fill="#d8d8d8" stroke="#222" stroke-width="0.8"/>
<ellipse cx="767.20" cy="410.00" rx="2.3" ry="4" fill="#d8d8d8" stroke="#222" stroke-width="1"/>
<ellipse cx="773.30" cy="413.20" rx="3.3" ry="5.7" transform="rotate(42 773.30 413.20)" fill="#d8d8d8" stroke="#222" stroke-width="1"/>
<ellipse cx="769.60" cy="424.20" rx="4.3" ry="6.2" transform="rotate(-18 769.60 424.20)" fill="#d8d8d8" stroke="#222" stroke-width="1"/>
<circle cx="767.10" cy="416.60" r="2.2" fill="#2a2a2a"/>
<text x="75.75" y="154.96" font-size="14" font-weight="normal" fill="#111" text-anchor="start" stroke="#111" stroke-width="0.2">发电机组1</text>
<text x="234.90" y="153.96" font-size="14" font-weight="normal" fill="#111" text-anchor="start" stroke="#111" stroke-width="0.2">发电机组2</text>
<text x="58.50" y="302.36" font-size="14" font-weight="normal" fill="#111" text-anchor="start" stroke="#111" stroke-width="0.2">变频器</text>
<text x="196.10" y="284.96" font-size="14" font-weight="normal" fill="#111" text-anchor="start" stroke="#111" stroke-width="0.2">日用负载</text>
<text x="20.10" y="361.56" font-size="14" font-weight="normal" fill="#111" text-anchor="start" stroke="#111" stroke-width="0.2">主机</text>
<text x="92.00" y="393.46" font-size="14" font-weight="normal" fill="#111" text-anchor="start" stroke="#111" stroke-width="0.2">轴带电机</text>
<text x="162.00" y="417.66" font-size="14" font-weight="normal" fill="#111" text-anchor="start" stroke="#111" stroke-width="0.2">主推进器</text>
<text x="54.90" y="435.96" font-size="14" font-weight="normal" fill="#111" text-anchor="start" stroke="#111" stroke-width="0.2">齿轮箱</text>
<text x="371.50" y="155.16" font-size="14" font-weight="normal" fill="#111" text-anchor="start" stroke="#111" stroke-width="0.2">发电机组1</text>
<text x="532.60" y="155.96" font-size="14" font-weight="normal" fill="#111" text-anchor="start" stroke="#111" stroke-width="0.2">发电机组2</text>
<text x="354.40" y="299.36" font-size="14" font-weight="normal" fill="#111" text-anchor="start" stroke="#111" stroke-width="0.2">变频器</text>
<text x="499.10" y="285.26" font-size="14" font-weight="normal" fill="#111" text-anchor="start" stroke="#111" stroke-width="0.2">日用负载</text>
<text x="312.70" y="362.76" font-size="14" font-weight="normal" fill="#111" text-anchor="start" stroke="#111" stroke-width="0.2">主机</text>
<text x="381.20" y="399.26" font-size="14" font-weight="normal" fill="#111" text-anchor="start" stroke="#111" stroke-width="0.2">轴带电机</text>
<text x="462.80" y="425.16" font-size="14" font-weight="normal" fill="#111" text-anchor="start" stroke="#111" stroke-width="0.2">主推进器</text>
<text x="700.30" y="156.96" font-size="14" font-weight="normal" fill="#111" text-anchor="start" stroke="#111" stroke-width="0.2">发电机组1</text>
<text x="861.40" y="157.76" font-size="14" font-weight="normal" fill="#111" text-anchor="start" stroke="#111" stroke-width="0.2">发电机组2</text>
<text x="683.20" y="301.16" font-size="14" font-weight="normal" fill="#111" text-anchor="start" stroke="#111" stroke-width="0.2">变频器</text>
<text x="827.90" y="287.06" font-size="14" font-weight="normal" fill="#111" text-anchor="start" stroke="#111" stroke-width="0.2">日用负载</text>
<text x="641.50" y="364.56" font-size="14" font-weight="normal" fill="#111" text-anchor="start" stroke="#111" stroke-width="0.2">主机</text>
<text x="710.00" y="401.06" font-size="14" font-weight="normal" fill="#111" text-anchor="start" stroke="#111" stroke-width="0.2">轴带电机</text>
<text x="791.60" y="426.96" font-size="14" font-weight="normal" fill="#111" text-anchor="start" stroke="#111" stroke-width="0.2">主推进器</text>
<text x="75.50" y="130.70" font-size="20" font-weight="bold" fill="#111" text-anchor="start" >PTO<tspan font-size="21">模式/轴带发电</tspan></text>
<text x="400.00" y="134.00" font-size="20" font-weight="bold" fill="#111" text-anchor="start" >PTI<tspan font-size="21">模式/混合推进</tspan></text>
<text x="724.30" y="135.50" font-size="20" font-weight="bold" fill="#111" text-anchor="start" >PTH<tspan font-size="21">模式/单独推进</tspan></text>
<path d="M88.30,401.60 L150.50,401.60" fill="none" stroke="#e8000b" stroke-width="3.3" stroke-linejoin="miter"/>
<polygon points="162.00,401.40 150.00,396.00 150.00,407.20" fill="#e8000b"/>
<path d="M131.00,401.60 L131.00,234.70 L248.90,234.70 L248.90,271.00" fill="none" stroke="#e8000b" stroke-width="3" stroke-linejoin="miter"/>
<polygon points="248.90,288.60 242.70,270.40 255.10,270.40" fill="#e8000b"/>
<path d="M443.20,164.50 L443.20,369.20 L390.00,369.20" fill="none" stroke="#1ba1e2" stroke-width="3" stroke-linejoin="miter"/>
<polygon points="379.20,369.20 390.50,363.50 390.50,374.90" fill="#1ba1e2"/>
<path d="M512.30,166.80 L512.30,205.40 L443.20,205.40" fill="none" stroke="#1ba1e2" stroke-width="3" stroke-linejoin="miter"/>
<path d="M443.20,241.40 L512.30,241.40 L512.30,302.00" fill="none" stroke="#1ba1e2" stroke-width="3" stroke-linejoin="miter"/>
<polygon points="512.30,314.20 505.90,301.50 518.70,301.50" fill="#1ba1e2"/>
<path d="M315.30,416.00 L364.50,416.00" fill="none" stroke="#1ba1e2" stroke-width="3" stroke-linejoin="miter"/>
<polygon points="376.40,416.20 364.00,410.50 364.00,421.90" fill="#1ba1e2"/>
<path d="M379.70,380.80 L379.70,430.80 L422.50,430.80" fill="none" stroke="#1ba1e2" stroke-width="3" stroke-linejoin="miter"/>
<polygon points="433.30,430.80 422.00,425.20 422.00,436.40" fill="#1ba1e2"/>
<path d="M772.00,166.30 L772.00,371.00 L718.80,371.00" fill="none" stroke="#1ba1e2" stroke-width="3" stroke-linejoin="miter"/>
<polygon points="708.00,371.00 719.30,365.30 719.30,376.70" fill="#1ba1e2"/>
<path d="M841.10,168.60 L841.10,207.20 L772.00,207.20" fill="none" stroke="#1ba1e2" stroke-width="3" stroke-linejoin="miter"/>
<path d="M772.00,243.20 L841.10,243.20 L841.10,303.80" fill="none" stroke="#1ba1e2" stroke-width="3" stroke-linejoin="miter"/>
<polygon points="841.10,316.00 834.70,303.30 847.50,303.30" fill="#1ba1e2"/>
<path d="M708.50,382.60 L708.50,432.60 L751.30,432.60" fill="none" stroke="#1ba1e2" stroke-width="3" stroke-linejoin="miter"/>
<polygon points="762.10,432.60 750.80,427.00 750.80,438.20" fill="#1ba1e2"/>
<line x1="302.50" y1="129.30" x2="302.50" y2="449.00" stroke="#222" stroke-width="1.4" stroke-linecap="butt"/>
<line x1="627.60" y1="129.30" x2="627.60" y2="449.00" stroke="#222" stroke-width="1.4" stroke-linecap="butt"/>
<path d="M48.5,35.2 L68.8,35.2 L66.5,44.7 L60.5,44.7 L61,40.8 C57,40.8 53,44 51.2,48.5 C49.5,53 50.5,58.5 55.5,58.5 L61.5,58.5 L59.2,64.8 L34.2,64.8 L39.5,48.5 C41.5,41 44,35.2 48.5,35.2 Z" fill="#1d4e9e"/>
<path d="M76.5,35.2 L96.8,35.2 L95,44.3 L89,44.3 L89.5,40.8 L85.5,40.8 C83,40.8 82,44 83,46 C84,47.8 86,48.5 88.5,48.5 C92,48.5 93,51 92.5,53 L90.2,61.5 C89.5,63.8 88,64.8 85,64.8 L63.4,64.8 L65,57.5 L71.3,57.5 L70.9,59.3 L76.5,59.3 C79.5,59.3 80,56 78.5,55.5 C77.5,55.2 76.5,55.2 75,55.2 L69,55.2 C66.5,55.2 66,53 66.5,51 L70.5,40.5 C72,37 73.5,35.2 76.5,35.2 Z" fill="#1d4e9e"/>
<path d="M76.5,35.2 L96.8,35.2 L95,44.3 L89,44.3 L89.5,40.8 L85.5,40.8 C83,40.8 82,44 83,46 C84,47.8 86,48.5 88.5,48.5 C92,48.5 93,51 92.5,53 L90.2,61.5 C89.5,63.8 88,64.8 85,64.8 L63.4,64.8 L65,57.5 L71.3,57.5 L70.9,59.3 L76.5,59.3 C79.5,59.3 80,56 78.5,55.5 C77.5,55.2 76.5,55.2 75,55.2 L69,55.2 C66.5,55.2 66,53 66.5,51 L70.5,40.5 C72,37 73.5,35.2 76.5,35.2 Z" fill="#1d4e9e" transform="translate(28.7,0)"/>
<path d="M48.5,35.2 L68.8,35.2 L66.5,44.7 L60.5,44.7 L61,40.8 C57,40.8 53,44 51.2,48.5 C49.5,53 50.5,58.5 55.5,58.5 L61.5,58.5 L59.2,64.8 L34.2,64.8 L39.5,48.5 C41.5,41 44,35.2 48.5,35.2 Z" fill="#1d4e9e" transform="translate(85.3,0)"/>
<path d="M198,31.5 L223.3,16.1 L249.4,32 L245.6,35.6 L223.3,22 L203.5,33.8 L209.5,40.5 L204,40.5 Z" fill="#e0332f"/>
<path d="M224,26 L240,36.8 L236.5,40.2 L224,40.2 Z" fill="#e0332f"/>
<path d="M197.8,66.3 L223.3,83.3 L249.4,66.8 L243.8,58.8 L238.6,58.8 L243.6,65.8 L223.3,78.2 L202,64.4 Z" fill="#1f4f9c"/>
<path d="M207.2,64.2 L210.8,59.4 L224,59.4 L224,74.4 Z" fill="#1f4f9c"/>
<path d="M1.5,0 H9.5 V2.9 H2.6 V4.45 H8 C9,4.45 9.5,5 9.5,6 V10.2 C9.5,11.2 9,11.6 8,11.6 H0 V8.7 H6.9 V7.15 H1.5 C0.5,7.15 0,6.6 0,5.6 V1.5 C0,0.5 0.5,0 1.5,0 Z" fill="#1f4f9c" transform="translate(185.00,43.8) scale(1.032,1)"/>
<path d="M1.5,0 H9.5 V2.9 H2.6 V4.45 H8.5 V7.15 H2.6 V8.7 H9.5 V11.6 H1.5 C0.5,11.6 0,11.1 0,10.1 V1.5 C0,0.5 0.5,0 1.5,0 Z" fill="#1f4f9c" transform="translate(196.50,43.8) scale(0.895,1)"/>
<path d="M1.5,0 H9.5 V2.9 H2.6 V4.45 H8 C9,4.45 9.5,5 9.5,6 V10.2 C9.5,11.2 9,11.6 8,11.6 H0 V8.7 H6.9 V7.15 H1.5 C0.5,7.15 0,6.6 0,5.6 V1.5 C0,0.5 0.5,0 1.5,0 Z" fill="#1f4f9c" transform="translate(207.20,43.8) scale(0.989,1)"/>
<path d="M0,0 H9.5 V2.9 H6.2 V11.6 H3.3 V2.9 H0 Z" fill="#e0332f" transform="translate(218.30,43.8) scale(1.084,1)"/>
<path d="M1.5,0 H9.5 V2.9 H2.6 V4.45 H8.5 V7.15 H2.6 V8.7 H9.5 V11.6 H1.5 C0.5,11.6 0,11.1 0,10.1 V1.5 C0,0.5 0.5,0 1.5,0 Z" fill="#e0332f" transform="translate(230.30,43.8) scale(0.895,1)"/>
<path d="M1.5,0 H9.5 V2.9 H2.6 V8.7 H9.5 V11.6 H1.5 C0.5,11.6 0,11.1 0,10.1 V1.5 C0,0.5 0.5,0 1.5,0 Z" fill="#e0332f" transform="translate(241.00,43.8) scale(0.895,1)"/>
<path d="M0,0 H2.6 V4.45 H6.9 V0 H9.5 V11.6 H6.9 V7.15 H2.6 V11.6 H0 Z" fill="#e0332f" transform="translate(251.70,43.8) scale(0.979,1)"/>
<rect x="352" y="0" width="98" height="97.5" fill="#f3f3f3"/>
<g stroke="#ffffff" stroke-width="2.6" stroke-linejoin="round"><path d="M375.4,91 C374,78 377,66 388,62.5 L413,62.5 C424,66 427.5,78 426.7,91 Z" fill="#7e1c15"/><rect x="382.5" y="66.8" width="37.5" height="3" fill="#f8efe6"/><path d="M382.5,69.5 L400.5,70.5 L420,69.5 L420,92.5 L400.5,92.5 L382.5,92.5 Z" fill="#e07b22"/><rect x="398.5" y="70" width="4" height="22.5" fill="#f3962f"/><circle cx="386" cy="84.5" r="4.6" fill="#f2a98a"/><circle cx="415.5" cy="84.5" r="4.6" fill="#f2a98a"/><rect x="396" y="58" width="9" height="6" fill="#f2b49b"/><ellipse cx="380.8" cy="44.5" rx="2.8" ry="3.8" fill="#f4c0a8"/><ellipse cx="420.3" cy="44.5" rx="2.8" ry="3.8" fill="#f4c0a8"/><path d="M383,36 L418,36 L418.5,50 C418,58 411,62.5 400.5,62.5 C390,62.5 383,58 382.5,50 Z" fill="#f4b9a3"/><path d="M382.5,33 L418.5,33 L418.5,49 L416,49 L416,38.5 L385,38.5 L385,49 L382.5,49 Z" fill="#74351a"/><path d="M369.2,16.7 L407.5,4.2 L434.2,34.2 L418.5,36 L382.5,36 L382.5,25 Z" fill="#1e1e1e"/><path d="M382.5,18 Q400,14 418.3,18 L418.3,35.5 L382.5,35.5 Z" fill="#262626"/><rect x="369" y="17" width="1.7" height="18.5" fill="#1e1e1e"/><circle cx="370" cy="37.6" r="2.6" fill="#e9a93a"/></g>
<circle cx="393.8" cy="44.3" r="1.3" fill="#5a2a1a"/><circle cx="407.5" cy="44.3" r="1.3" fill="#5a2a1a"/>
<path d="M375.4,91 C374,78 377,66 388,62.5 L413,62.5 C424,66 427.5,78 426.7,91 Z" fill="#7e1c15"/>
<rect x="382.5" y="66.8" width="37.5" height="3" fill="#f8efe6"/>
<path d="M382.5,69.5 L400.5,70.5 L420,69.5 L420,92.5 L400.5,92.5 L382.5,92.5 Z" fill="#e07b22"/>
<rect x="398.5" y="70" width="4" height="22.5" fill="#f3962f"/>
<circle cx="386" cy="84.5" r="4.6" fill="#f2a98a"/><circle cx="415.5" cy="84.5" r="4.6" fill="#f2a98a"/>
<rect x="396" y="58" width="9" height="6" fill="#f2b49b"/>
<ellipse cx="380.8" cy="44.5" rx="2.8" ry="3.8" fill="#f4c0a8"/><ellipse cx="420.3" cy="44.5" rx="2.8" ry="3.8" fill="#f4c0a8"/>
<path d="M383,36 L418,36 L418.5,50 C418,58 411,62.5 400.5,62.5 C390,62.5 383,58 382.5,50 Z" fill="#f4b9a3"/>
<path d="M382.5,33 L418.5,33 L418.5,49 L416,49 L416,38.5 L385,38.5 L385,49 L382.5,49 Z" fill="#74351a"/>
<path d="M369.2,16.7 L407.5,4.2 L434.2,34.2 L418.5,36 L382.5,36 L382.5,25 Z" fill="#1e1e1e"/>
<path d="M382.5,18 Q400,14 418.3,18 L418.3,35.5 L382.5,35.5 Z" fill="#262626"/>
<rect x="369" y="17" width="1.7" height="18.5" fill="#1e1e1e"/>
<circle cx="370" cy="37.6" r="2.6" fill="#e9a93a"/>
<circle cx="393.8" cy="44.3" r="1.3" fill="#5a2a1a"/><circle cx="407.5" cy="44.3" r="1.3" fill="#5a2a1a"/>
<path d="M396,55 Q400.5,54.3 405,55 Q404,58.5 400.5,58.5 Q397,58.5 396,55 Z" fill="#d86a5a"/>
<path d="M429.2,653.2 H816.6 Q825.6,653.2 825.6,662.2 V683.75 L846.9,692.25 L825.6,696.9 Q825.6,705.2 816.6,705.2 H429.2 Q420.2,705.2 420.2,696.2 V662.2 Q420.2,653.2 429.2,653.2 Z" fill="#fff" stroke="#222" stroke-width="1.3"/>
<path d="M864.6,691 L861,704.8 L877,705.5 L877,712 L907.7,712 L906,694 L895,695 Z" fill="#b3b3b3" stroke="#111" stroke-width="1.8" stroke-linejoin="round"/>
<path d="M864.6,691 L861,704.8 L877,705.5 L877,693 Z" fill="#b3b3b3" stroke="#111" stroke-width="2"/>
<line x1="864.8" y1="705" x2="864" y2="712" stroke="#111" stroke-width="1.8"/><line x1="872" y1="705" x2="871.5" y2="712" stroke="#111" stroke-width="1.8"/>
<rect x="881.8" y="694" width="3.2" height="18" fill="#111"/><rect x="898.6" y="694" width="2.6" height="18" fill="#111"/><rect x="903" y="694" width="2" height="18" fill="#111"/>
<path d="M857,660 L865,648 L912,660 L912,688 L884.4,694 C873,692 862,688 855.5,682.2 C851,679 851,671 857,660 Z" fill="#fff"/>
<path d="M856.5,667 C851,671 850.8,679 855.5,682.2 C860,686 864,688 867.8,689 C873,691.2 879,693.3 884.4,693.4 C891,694 897,692.6 901,691 L912,686.7" fill="none" stroke="#111" stroke-width="2.8" stroke-linecap="round" stroke-linejoin="round"/>
<path d="M847.8,663 C847.5,652 853,642 861,636 C868,630.5 878,627.3 890,627.2 C903,627.2 915,631 923,640 C930,647 934,656 934,666 C934,676 931,684 922,689.4 L906.5,683 C905.5,678 905.5,671 906.8,667 L911,662.8 C900,658 880,652 865.5,650 L862,659 L857.5,665.5 Z" fill="#262626" stroke="#111" stroke-width="1.6" stroke-linejoin="round"/>
<path d="M873.3,657.4 Q877.8,652.8 883.3,658.3" fill="none" stroke="#111" stroke-width="2.6" stroke-linecap="round"/>
<path d="M890,661.3 Q895.5,657.4 901,664" fill="none" stroke="#111" stroke-width="2.6" stroke-linecap="round"/>
<ellipse cx="876.1" cy="661.8" rx="2.1" ry="1.4" fill="#333"/><ellipse cx="892.8" cy="666.8" rx="2.1" ry="1.4" fill="#333"/>
<ellipse cx="880.3" cy="671.6" rx="2.8" ry="1.2" fill="#222"/>
<ellipse cx="880" cy="679.5" rx="7.6" ry="5.6" transform="rotate(18 880 679.5)" fill="#0d0d0d"/>
<path d="M874.5,675.6 Q880.5,672.6 886.3,677.3" fill="none" stroke="#e6e6e6" stroke-width="1.3"/>
</svg>
<div class="box" style="left:466px;top:22px;width:458px;height:68px;border-radius:11px"></div>
<div style="position:absolute;left:505px;top:32px;font-size:32px;letter-spacing:0.7px;font-weight:bold;-webkit-text-stroke:0.4px #000;color:#000;white-space:nowrap">轴带混合动力的运行模式</div>
<div class="box" style="left:9px;top:452px;width:284px;height:173px;border-radius:28px"></div>
<div class="box" style="left:300px;top:452px;width:316px;height:173px;border-radius:28px"></div>
<div class="box" style="left:630px;top:452px;width:309px;height:173px;border-radius:28px"></div>
<div class="hdr" style="left:24px;top:456px">PTO (Power take out)</div>
<div class="hdr" style="left:308px;top:456px;letter-spacing:-0.2px">PTI (Power take in)</div>
<div class="hdr" style="left:639px;top:458px">PTH (Power take home)</div>
<div class="body" style="left:25px;top:502px">利用主机冗余功率带<br>动轴带电机发电，为<br>日用负载供电。</div>
<div class="body" style="left:310px;top:502px">利用发电机组拖动轴带电<br>机，与主机共同驱动推进<br>器。</div>
<div class="body" style="left:640px;top:504px">利用柴油机组拖动轴带电<br>机，单独驱动推进器。</div>
<div style="position:absolute;left:430px;top:651px;font-size:32px;font-weight:bold;-webkit-text-stroke:0.4px #000;color:#000;white-space:nowrap">有点复杂，能否展开讲讲。</div>
</body></html>
